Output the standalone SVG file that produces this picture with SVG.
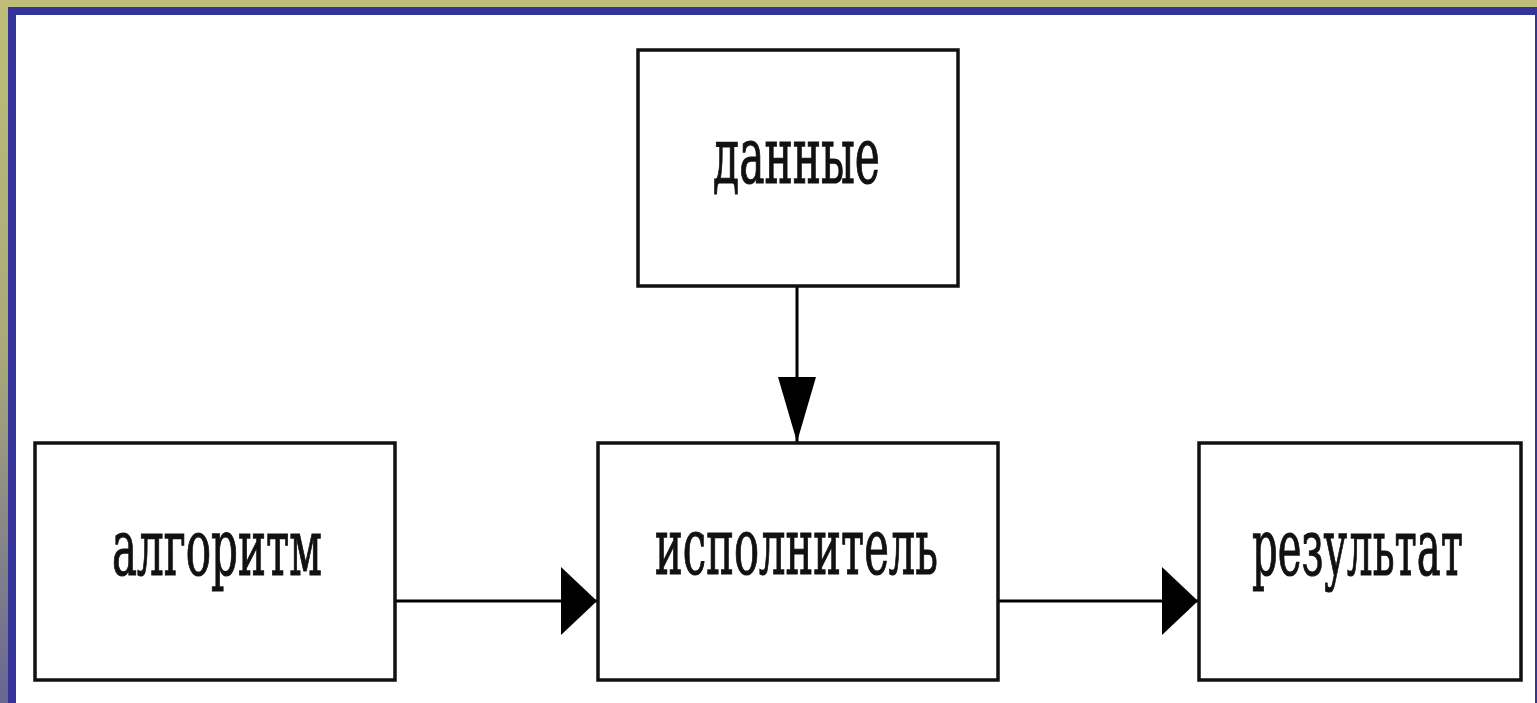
<svg xmlns="http://www.w3.org/2000/svg" width="1537" height="703" viewBox="0 0 1537 703">
<defs>
<linearGradient id="lg" x1="0" y1="0" x2="0" y2="1">
<stop offset="0" stop-color="#BEBE78"/>
<stop offset="0.5" stop-color="#A9A97A"/>
<stop offset="1" stop-color="#676694"/>
</linearGradient>
<marker id="ah" viewBox="0 0 36 68" refX="36" refY="34" markerWidth="36" markerHeight="68" markerUnits="userSpaceOnUse" orient="auto">
<path d="M0,0 L36,34 L0,68 Z" fill="#000"/>
</marker>
<marker id="av" viewBox="0 0 65 38" refX="65" refY="19" markerWidth="65" markerHeight="38" markerUnits="userSpaceOnUse" orient="auto">
<path d="M0,0 L65,19 L0,38 Z" fill="#000"/>
</marker>
</defs>
<style>
.box{fill:#fff;stroke:#111;stroke-width:3.5}
.lbl{font-family:"DejaVu Serif","Liberation Serif",serif;font-size:79px;fill:#111;stroke:#111;stroke-width:1.2}
.con{stroke:#000;stroke-width:3;fill:none}
</style>
<rect x="0" y="0" width="1537" height="703" fill="#fff"/>
<rect x="0" y="0" width="1537" height="8" fill="#BEBE78"/>
<rect x="0" y="0" width="8" height="703" fill="url(#lg)"/>
<rect x="8" y="7" width="1529" height="8" fill="#333399"/>
<rect x="8" y="7" width="8" height="696" fill="#333399"/>
<rect x="1535" y="7" width="2" height="696" fill="#333399"/>
<g id="connectors">
<line class="con" x1="797" y1="287" x2="797" y2="442" marker-end="url(#av)"/>
<line class="con" x1="396" y1="601" x2="597" y2="601" marker-end="url(#ah)"/>
<line class="con" x1="999" y1="601" x2="1198" y2="601" marker-end="url(#ah)"/>
</g>
<g id="n-dannye">
<rect class="box" x="638" y="50" width="320" height="236"/>
<text class="lbl" x="713" y="183" textLength="167" lengthAdjust="spacingAndGlyphs">данные</text>
</g>
<g id="n-algoritm">
<rect class="box" x="35" y="443" width="360" height="237"/>
<text class="lbl" x="112" y="575" textLength="210" lengthAdjust="spacingAndGlyphs">алгоритм</text>
</g>
<g id="n-ispolnitel">
<rect class="box" x="598" y="443" width="400" height="237"/>
<text class="lbl" x="655" y="574" textLength="283" lengthAdjust="spacingAndGlyphs">исполнитель</text>
</g>
<g id="n-rezultat">
<rect class="box" x="1199" y="443" width="322" height="237"/>
<text class="lbl" x="1252" y="575" textLength="211" lengthAdjust="spacingAndGlyphs">результат</text>
</g>
</svg>
